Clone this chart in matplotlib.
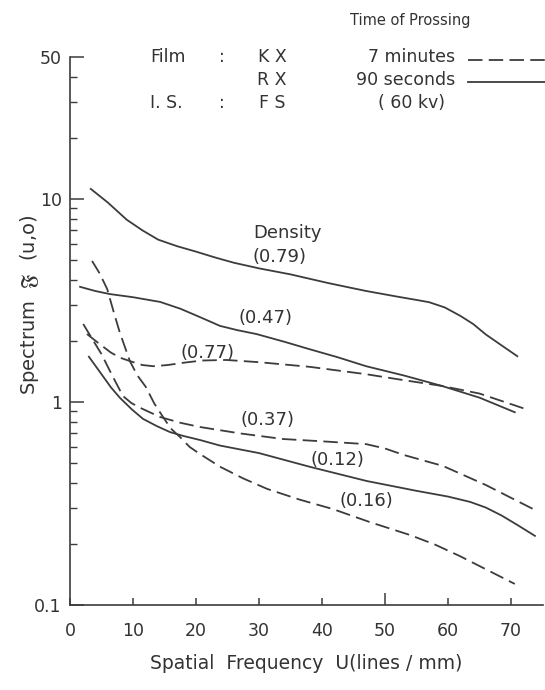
import matplotlib
matplotlib.use("Agg")
import matplotlib.pyplot as plt
from matplotlib.lines import Line2D
from matplotlib.ticker import FixedLocator, NullFormatter

# Spectrum F(u,0) versus spatial frequency for two film types (KX dashed, RX solid)
u_079 = [3.3, 6, 9, 11.5, 14, 17, 20, 23, 26, 30, 35, 41, 47, 52, 55, 57, 59.5, 62, 64, 66, 68.5, 71]
s_079 = [11.2, 9.6, 7.9, 7.0, 6.3, 5.85, 5.5, 5.15, 4.85, 4.55, 4.25, 3.85, 3.52, 3.3, 3.18,
         3.1, 2.92, 2.65, 2.42, 2.15, 1.9, 1.68]

u_047 = [1.6, 4, 6.3, 10, 14.3, 17.5, 20.6, 23.8, 26.5, 29.6, 34, 38, 42.5, 47, 53, 59, 65, 70.6]
s_047 = [3.69, 3.52, 3.40, 3.28, 3.11, 2.88, 2.62, 2.37, 2.26, 2.16, 1.98, 1.82, 1.66, 1.5,
         1.35, 1.2, 1.05, 0.89]

u_077 = [2.7, 4.5, 6.5, 8, 9.5, 11.5, 13.2, 15.5, 18, 21, 24.8, 30, 38, 47, 53, 59, 65, 72]
s_077 = [2.16, 1.95, 1.75, 1.65, 1.59, 1.52, 1.50, 1.52, 1.56, 1.6, 1.61, 1.57, 1.49, 1.37,
         1.28, 1.2, 1.1, 0.93]

u_037 = [2.1, 3.5, 5, 6.7, 8.4, 9.7, 11, 14.3, 17.5, 20.6, 27, 33.8, 40, 47, 50, 53, 59.2, 66, 73.5]
s_037 = [2.42, 2.05, 1.72, 1.35, 1.07, 0.99, 0.94, 0.843, 0.79, 0.753, 0.70, 0.657, 0.64,
         0.62, 0.59, 0.548, 0.484, 0.39, 0.297]

u_012 = [3.0, 5, 6.5, 7.9, 9.8, 11.6, 13.8, 15.9, 18, 20.6, 23.8, 30, 38.1, 47.1, 55, 60,
         63.5, 66, 68.5, 71, 73.8]
s_012 = [1.67, 1.37, 1.18, 1.05, 0.92, 0.825, 0.76, 0.71, 0.68, 0.65, 0.61, 0.56, 0.479,
         0.408, 0.365, 0.342, 0.322, 0.302, 0.276, 0.248, 0.219]

u_016 = [3.5, 4.7, 5.9, 6.9, 7.9, 9.5, 10.7, 12, 13.4, 14.8, 16, 17.5, 19, 20.6, 23.8, 27.5,
         31.3, 36.5, 41.7, 47.6, 54, 58, 61.9, 66, 70.6]
s_016 = [4.95, 4.3, 3.6, 2.8, 2.2, 1.59, 1.35, 1.19, 0.98, 0.84, 0.74, 0.67, 0.6, 0.555,
         0.48, 0.42, 0.373, 0.33, 0.297, 0.256, 0.221, 0.198, 0.174, 0.150, 0.127]

x_ticks = [0, 10, 20, 30, 40, 50, 60, 70]
y_major = [0.1, 1, 10, 50]
y_major_labels = ["0.1", "1", "10", "50"]

density_labels = ["(0.79)", "(0.47)", "(0.77)", "(0.37)", "(0.12)", "(0.16)"]
label_pos = [(33.2, 5.18), (31.1, 2.59), (21.9, 1.74), (31.3, 0.815), (42.5, 0.518), (47.0, 0.325)]

INK = "#3c3c3c"
TXT = "#333333"
DASH = (0, (8, 3.5))

W, H = 545, 690
fig = plt.figure(figsize=(W / 100, H / 100), dpi=100)
fig.patch.set_facecolor("white")


def fx(px):
    return px / W


def fy(py):
    return 1 - py / H


ax = fig.add_axes([fx(70), fy(605), (542.5 - 70) / W, (605 - 57) / H])
ax.set_yscale("log")
ax.set_xlim(0, 75)
ax.set_ylim(0.1, 50)

lw = 1.3
ax.plot(u_079, s_079, color=INK, lw=lw)
ax.plot(u_047, s_047, color=INK, lw=lw)
ax.plot(u_012, s_012, color=INK, lw=lw)
ax.plot(u_077, s_077, color=INK, lw=lw, linestyle=DASH)
ax.plot(u_037, s_037, color=INK, lw=lw, linestyle=DASH)
ax.plot(u_016, s_016, color=INK, lw=lw, linestyle=DASH)

for text, (xu, yv) in zip(density_labels, label_pos):
    ax.text(xu, yv, text, fontsize=13, color=TXT, ha="center", va="center")
ax.text(34.6, 6.8, "Density", fontsize=13, color=TXT, ha="center", va="center")

for side in ("top", "right"):
    ax.spines[side].set_visible(False)
for side in ("left", "bottom"):
    ax.spines[side].set_color(INK)
    ax.spines[side].set_linewidth(1.2)

ax.yaxis.set_major_locator(FixedLocator(y_major))
ax.set_yticklabels(y_major_labels)
minor_vals = [k * 10 ** e for e in (-1, 0) for k in range(2, 10)] + [20, 30, 40]
ax.yaxis.set_minor_locator(FixedLocator(minor_vals))
ax.yaxis.set_minor_formatter(NullFormatter())
ax.tick_params(axis="y", which="major", direction="in", length=10, width=1.1,
               color=INK, labelsize=12.5, labelcolor=TXT, pad=6)
ax.tick_params(axis="y", which="minor", direction="in", length=5, width=1.0, color=INK)

ax.set_xticks(x_ticks)
ax.set_xticklabels([str(v) for v in x_ticks])
ax.tick_params(axis="x", which="major", direction="in", length=5, width=1.1,
               color=INK, labelsize=12.5, labelcolor=TXT, pad=12)
ax.xaxis.get_major_ticks()[5].tick1line.set_markersize(9)

ax.set_xlabel("Spatial  Frequency  U(lines / mm)", fontsize=13.5, color=TXT, labelpad=10)
fig.text(fx(30), fy(305), r"Spectrum  $\mathfrak{F}$  (u,o)", rotation=90, fontsize=14,
         color=TXT, ha="center", va="center")

# header block describing films and processing
hdr = dict(fontsize=12.5, color=TXT, va="center")
fig.text(fx(410), fy(20), "Time of Prossing", fontsize=10.5, color=TXT, ha="center", va="center")
fig.text(fx(150), fy(57), "Film", ha="left", **hdr)
fig.text(fx(222), fy(57), ":", ha="center", **hdr)
fig.text(fx(272), fy(57), "K X", ha="center", **hdr)
fig.text(fx(455), fy(57), "7 minutes", ha="right", **hdr)
fig.text(fx(272), fy(80), "R X", ha="center", **hdr)
fig.text(fx(455), fy(80), "90 seconds", ha="right", **hdr)
fig.text(fx(150), fy(103), "I. S.", ha="left", **hdr)
fig.text(fx(222), fy(103), ":", ha="center", **hdr)
fig.text(fx(272), fy(103), "F S", ha="center", **hdr)
fig.text(fx(412), fy(103), "( 60 kv)", ha="center", **hdr)

fig.add_artist(Line2D([fx(468), fx(545)], [fy(60), fy(60)], color=INK, lw=lw, linestyle=DASH))
fig.add_artist(Line2D([fx(468), fx(545)], [fy(82), fy(82)], color=INK, lw=lw))

fig.savefig("out.png", dpi=100, facecolor="white")
